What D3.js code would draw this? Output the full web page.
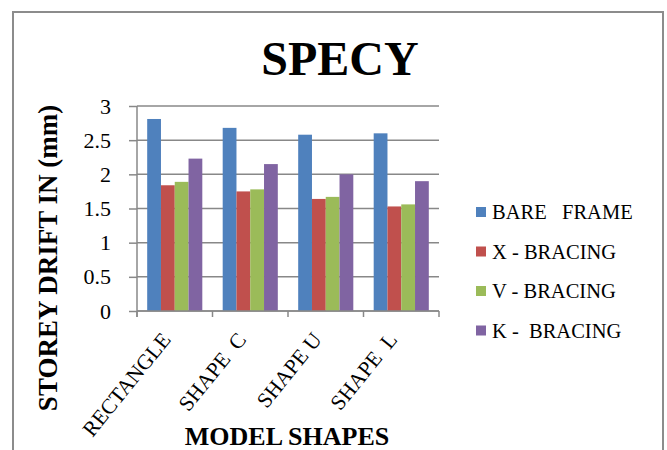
<!DOCTYPE html>
<html>
<head>
<meta charset="utf-8">
<script src="https://cdn.jsdelivr.net/npm/d3@7/dist/d3.min.js"></script>
<style>
  html, body { margin: 0; padding: 0; background: #fff; }
  svg { display: block; }
  svg text { font-family: "Liberation Serif", "Times New Roman", serif !important; fill: #000; }
</style>
</head>
<body>
<svg id="chart" width="667" height="450"></svg>
<script>
// ---- data ----
const categories = ["RECTANGLE", "SHAPE  C", "SHAPE U", "SHAPE  L"];
const seriesNames = ["BARE   FRAME", "X - BRACING", "V - BRACING", "K -  BRACING"];
const bareFrame = [2.81, 2.68, 2.58, 2.60];
const xBracing  = [1.84, 1.75, 1.64, 1.53];
const vBracing  = [1.89, 1.78, 1.67, 1.56];
const kBracing  = [2.23, 2.15, 2.00, 1.90];
const yTicks = [0, 0.5, 1, 1.5, 2, 2.5, 3];
const yTickLabels = ["0", "0.5", "1", "1.5", "2", "2.5", "3"];
const colors = ["#4F81BD", "#C0504D", "#9BBB59", "#8064A2"];
const seriesValues = [bareFrame, xBracing, vBracing, kBracing];

const SERIF = "'Liberation Serif', 'Times New Roman', serif";
const svg = d3.select("#chart");

// frame
svg.append("rect").attr("x", 13).attr("y", 12).attr("width", 650).attr("height", 460)
  .attr("fill", "none").attr("stroke", "#8c8c8c").attr("stroke-width", 2);

const plot = { left: 137, right: 439, top: 106, bottom: 311 };

const y = d3.scaleLinear().domain([0, 3]).range([plot.bottom, plot.top]);
const xCat = d3.scaleBand().domain(categories).range([plot.left, plot.right]).padding(0);
const x0 = d3.scaleBand().domain(categories).range([plot.left, plot.right])
  .paddingInner(0.27).paddingOuter(0.135);
const x1 = d3.scaleBand().domain(seriesNames).range([0, x0.bandwidth()]).padding(0);

// gridlines
svg.append("g").selectAll("line").data(yTicks).join("line")
  .attr("x1", plot.left).attr("x2", plot.right)
  .attr("y1", d => y(d)).attr("y2", d => y(d))
  .attr("stroke", "#888").attr("stroke-width", 1.5);

// bars
const groups = svg.append("g").selectAll("g").data(categories).join("g")
  .attr("transform", c => `translate(${x0(c)},0)`);
groups.selectAll("rect")
  .data((c, i) => seriesNames.map((s, j) => ({ s, j, v: seriesValues[j][i] })))
  .join("rect")
  .attr("x", d => x1(d.s))
  .attr("width", x1.bandwidth())
  .attr("y", d => y(d.v))
  .attr("height", d => y(0) - y(d.v))
  .attr("fill", d => colors[d.j]);

// y axis
const yAxis = svg.append("g").attr("transform", `translate(${plot.left},0)`)
  .call(d3.axisLeft(y).tickValues(yTicks).tickSize(8).tickSizeOuter(0)
    .tickFormat((d, i) => yTickLabels[i]).tickPadding(18));
yAxis.attr("font-family", SERIF);
yAxis.select(".domain").attr("stroke", "#888").attr("stroke-width", 1.5)
  .attr("d", `M0,${plot.top}V${plot.bottom + 6}`);
yAxis.selectAll(".tick line").attr("stroke", "#888").attr("stroke-width", 1.5);
yAxis.selectAll(".tick text").attr("font-size", 22)
  .style("font-family", SERIF).attr("fill", "#000");

// x axis line + ticks at category boundaries
const xAx = svg.append("g");
xAx.append("line").attr("x1", plot.left).attr("x2", plot.right)
  .attr("y1", y(0)).attr("y2", y(0)).attr("stroke", "#888").attr("stroke-width", 1.5);
const bounds = categories.map(c => xCat(c)).concat([plot.right]);
xAx.selectAll("line.t").data(bounds).join("line").attr("class", "t")
  .attr("x1", d => d).attr("x2", d => d)
  .attr("y1", y(0)).attr("y2", y(0) + 6)
  .attr("stroke", "#888").attr("stroke-width", 1.5);

// x labels rotated
svg.append("g").selectAll("text").data(categories).join("text")
  .attr("transform", c => `translate(${xCat(c) + xCat.bandwidth() / 2 - 3},${plot.bottom + 29}) rotate(-51)`)
  .attr("text-anchor", "end")
  .attr("font-size", 21.5)
  .style("font-family", SERIF)
  .style("white-space", "pre")
  .text(c => c);

// title
svg.append("text").attr("x", 340).attr("y", 75).attr("text-anchor", "middle")
  .attr("font-size", 48).attr("font-weight", "bold").style("font-family", SERIF).text("SPECY");

// axis titles
svg.append("text").attr("transform", "translate(57,258) rotate(-90)")
  .attr("text-anchor", "middle").attr("font-size", 27).attr("font-weight", "bold")
  .style("font-family", SERIF)
  .text("STOREY DRIFT IN (mm)");
svg.append("text").attr("x", 287).attr("y", 445).attr("text-anchor", "middle")
  .attr("font-size", 26).attr("font-weight", "bold").style("font-family", SERIF).text("MODEL SHAPES");

// legend
const legendY = [212, 251.5, 291, 330.5];
const leg = svg.append("g").selectAll("g").data(seriesNames).join("g")
  .attr("transform", (d, i) => `translate(476,${legendY[i]})`);
leg.append("rect").attr("x", 0).attr("y", -5).attr("width", 10).attr("height", 10)
  .attr("fill", (d, i) => colors[i]);
leg.append("text").attr("x", 16).attr("y", 7).attr("font-size", 20.5)
  .style("font-family", SERIF)
  .style("white-space", "pre").text(d => d);
</script>
</body>
</html>
